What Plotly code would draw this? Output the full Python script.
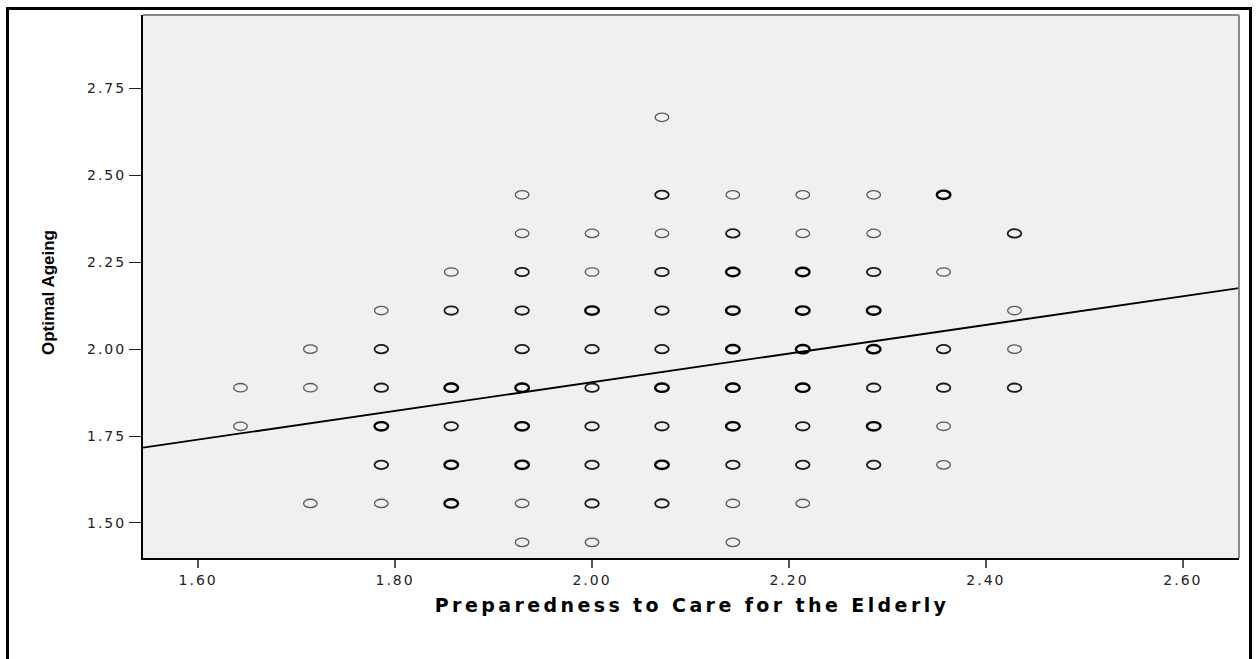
import plotly.graph_objects as go

# Preparedness to Care for the Elderly (x) vs Optimal Ageing (y).
# Each entry is one plotted position; "overlap" is how many respondents share it.
prep = (
    [1.643] * 2
    + [1.714] * 3
    + [1.786] * 6
    + [1.857] * 6
    + [1.929] * 10
    + [2.000] * 9
    + [2.071] * 10
    + [2.143] * 10
    + [2.214] * 9
    + [2.286] * 8
    + [2.357] * 6
    + [2.429] * 4
)
ageing = [
    1.889, 1.778,
    2.000, 1.889, 1.556,
    2.111, 2.000, 1.889, 1.778, 1.667, 1.556,
    2.222, 2.111, 1.889, 1.778, 1.667, 1.556,
    2.444, 2.333, 2.222, 2.111, 2.000, 1.889, 1.778, 1.667, 1.556, 1.444,
    2.333, 2.222, 2.111, 2.000, 1.889, 1.778, 1.667, 1.556, 1.444,
    2.667, 2.444, 2.333, 2.222, 2.111, 2.000, 1.889, 1.778, 1.667, 1.556,
    2.444, 2.333, 2.222, 2.111, 2.000, 1.889, 1.778, 1.667, 1.556, 1.444,
    2.444, 2.333, 2.222, 2.111, 2.000, 1.889, 1.778, 1.667, 1.556,
    2.444, 2.333, 2.222, 2.111, 2.000, 1.889, 1.778, 1.667,
    2.444, 2.222, 2.000, 1.889, 1.778, 1.667,
    2.333, 2.111, 2.000, 1.889,
]
overlap = [
    1, 1,
    1, 1, 1,
    1, 2, 2, 3, 2, 1,
    1, 2, 3, 2, 3, 3,
    1, 1, 2, 2, 2, 3, 3, 3, 1, 1,
    1, 1, 3, 2, 2, 2, 2, 2, 1,
    1, 2, 1, 2, 2, 2, 3, 2, 3, 2,
    1, 2, 3, 3, 3, 3, 3, 2, 1, 1,
    1, 1, 3, 3, 3, 3, 2, 2, 1,
    1, 1, 2, 3, 3, 2, 3, 2,
    3, 1, 2, 2, 1, 1,
    2, 1, 1, 2,
]

# Linear fit line (Optimal Ageing on Preparedness)
fit_intercept = 1.0795
fit_slope = 0.4126

x_range = [1.544, 2.657]
y_range = [1.399, 2.9615]
x_ticks = [1.60, 1.80, 2.00, 2.20, 2.40, 2.60]
y_ticks = [1.50, 1.75, 2.00, 2.25, 2.50, 2.75]

x_title = "Preparedness to Care for the Elderly"
y_title = "Optimal Ageing"

# Page geometry in pixels
W, H = 1258, 659
M_L, M_R, M_T, M_B = 143, 19, 15, 101
PW, PH = W - M_L - M_R, H - M_T - M_B


def px_to_paper_x(px):
    return (px - M_L) / PW


def px_to_paper_y(py):
    return (H - M_B - py) / PH


# Stroke style grows with the number of overlapping cases
ring_style = {1: ("#5a5a5a", 1.3), 2: ("#1a1a1a", 1.8), 3: ("#000000", 2.4)}

shapes = []
for xv, yv, n in zip(prep, ageing, overlap):
    color, width = ring_style[n]
    shapes.append(dict(
        type="circle", xref="x", yref="y",
        xsizemode="pixel", ysizemode="pixel",
        xanchor=xv, yanchor=yv,
        x0=-6.8, x1=6.8, y0=-4.2, y1=4.2,
        line=dict(color=color, width=width),
        fillcolor="rgba(0,0,0,0)", layer="above",
    ))

# Plot frame: grey top and right edges
shapes.append(dict(type="line", xref="paper", yref="paper", x0=0, x1=1, y0=1, y1=1,
                   line=dict(color="#8a8a8a", width=2)))
shapes.append(dict(type="line", xref="paper", yref="paper", x0=1, x1=1, y0=0, y1=1,
                   line=dict(color="#8a8a8a", width=2)))
# Outer chart border
shapes.append(dict(type="rect", xref="paper", yref="paper",
                   x0=px_to_paper_x(7.5), x1=px_to_paper_x(1250.5),
                   y0=px_to_paper_y(668), y1=px_to_paper_y(8.5),
                   line=dict(color="#000000", width=3), fillcolor="rgba(0,0,0,0)"))

fit_x = x_range
fit_y = [fit_intercept + fit_slope * v for v in fit_x]

fig = go.Figure()
fig.add_trace(go.Scatter(
    x=fit_x, y=fit_y, mode="lines",
    line=dict(color="#000000", width=1.8),
    hoverinfo="skip", showlegend=False,
))

tick_font = dict(family="DejaVu Sans", size=14, color="#222222")

fig.update_layout(
    width=W, height=H,
    margin=dict(l=M_L, r=M_R, t=M_T, b=M_B, pad=0),
    paper_bgcolor="#ffffff",
    plot_bgcolor="#f0f0f0",
    showlegend=False,
    shapes=shapes,
    xaxis=dict(
        range=x_range, tickvals=x_ticks, tickformat=".2f",
        showgrid=False, zeroline=False,
        showline=True, linecolor="#000000", linewidth=2,
        ticks="outside", ticklen=8, tickwidth=2, tickcolor="#555555",
        tickfont=tick_font,
    ),
    yaxis=dict(
        range=y_range, tickvals=y_ticks, tickformat=".2f",
        showgrid=False, zeroline=False,
        showline=True, linecolor="#000000", linewidth=2,
        ticks="outside", ticklen=12, tickwidth=1, tickcolor="#222222",
        tickfont=tick_font,
    ),
    annotations=[
        dict(text=x_title, xref="paper", yref="paper",
             x=px_to_paper_x(692), y=px_to_paper_y(605),
             xanchor="center", yanchor="middle", showarrow=False,
             font=dict(family="DejaVu Sans", size=19, color="#000000", weight="bold")),
        dict(text=y_title, xref="paper", yref="paper", textangle=-90,
             x=px_to_paper_x(48), y=px_to_paper_y(293),
             xanchor="center", yanchor="middle", showarrow=False,
             font=dict(family="Liberation Sans", size=17, color="#000000", weight="bold")),
    ],
)

# Wider letter spacing for the tick labels and the x-axis title
spacing_css = (
    ".xtick text, .ytick text { letter-spacing: 2px; } "
    ".annotation[data-index='0'] text { letter-spacing: 3.4px; }"
)
post_js = (
    "var st = document.createElement('style');"
    "st.textContent = \"" + spacing_css + "\";"
    "document.head.appendChild(st);"
)

fig.write_html("out.html", post_script=post_js)
